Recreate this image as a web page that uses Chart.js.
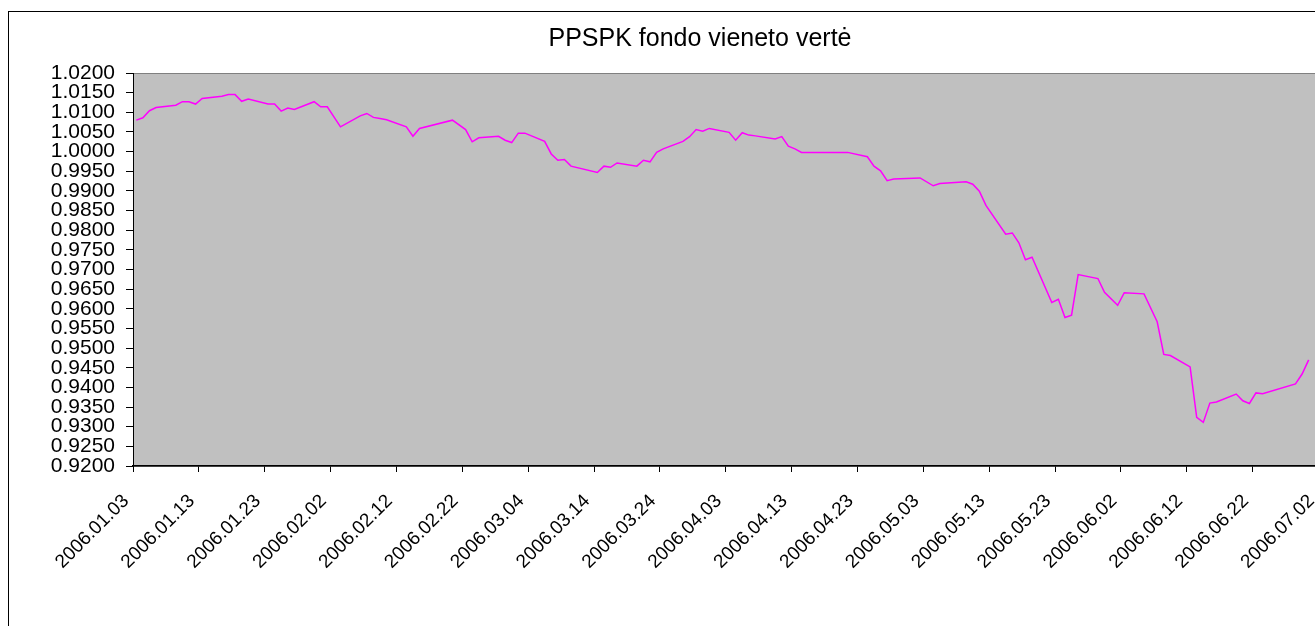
<!DOCTYPE html>
<html lang="lt">
<head>
<meta charset="UTF-8">
<title>PPSPK fondo vieneto vertė</title>
<script src="https://cdn.jsdelivr.net/npm/chart.js@4/dist/chart.umd.min.js"></script>
<style>
  * { box-sizing: border-box; margin: 0; padding: 0; }
  html, body { width: 1315px; height: 626px; overflow: hidden; background: #fff; }
  /* chart frame is wider/taller than the window, like the cropped Excel chart */
  .frame { position: absolute; left: 8px; top: 11px; width: 1384px; height: 660px; border: 1px solid #000; background: #fff; }
  .frame canvas { display: block; }
</style>
</head>
<body>
<div class="frame"><canvas id="chart" width="1382" height="614"></canvas></div>
<script>
const TITLE = 'PPSPK fondo vieneto vertė';
const START_DATE = '2006.01.03';

// trading days and unit values
const DATES = [
  '2006.01.03', '2006.01.04', '2006.01.05', '2006.01.06', '2006.01.09', '2006.01.10', '2006.01.11', '2006.01.12', '2006.01.13',
  '2006.01.16', '2006.01.17', '2006.01.18', '2006.01.19', '2006.01.20', '2006.01.23', '2006.01.24', '2006.01.25', '2006.01.26',
  '2006.01.27', '2006.01.30', '2006.01.31', '2006.02.01', '2006.02.03', '2006.02.06', '2006.02.07', '2006.02.08', '2006.02.09',
  '2006.02.10', '2006.02.13', '2006.02.14', '2006.02.15', '2006.02.20', '2006.02.22', '2006.02.23', '2006.02.24', '2006.02.27',
  '2006.02.28', '2006.03.01', '2006.03.02', '2006.03.03', '2006.03.06', '2006.03.07', '2006.03.08', '2006.03.09', '2006.03.10',
  '2006.03.14', '2006.03.15', '2006.03.16', '2006.03.17', '2006.03.20', '2006.03.21', '2006.03.22', '2006.03.23', '2006.03.24',
  '2006.03.27', '2006.03.28', '2006.03.29', '2006.03.30', '2006.03.31', '2006.04.03', '2006.04.04', '2006.04.05', '2006.04.06',
  '2006.04.07', '2006.04.10', '2006.04.11', '2006.04.12', '2006.04.13', '2006.04.14', '2006.04.21', '2006.04.24', '2006.04.25',
  '2006.04.26', '2006.04.27', '2006.04.28', '2006.05.02', '2006.05.04', '2006.05.05', '2006.05.09', '2006.05.10', '2006.05.11',
  '2006.05.12', '2006.05.15', '2006.05.16', '2006.05.17', '2006.05.18', '2006.05.19', '2006.05.22', '2006.05.23', '2006.05.24',
  '2006.05.25', '2006.05.26', '2006.05.29', '2006.05.30', '2006.06.01', '2006.06.02', '2006.06.05', '2006.06.07', '2006.06.08',
  '2006.06.09', '2006.06.12', '2006.06.13', '2006.06.14', '2006.06.15', '2006.06.16', '2006.06.19', '2006.06.20', '2006.06.21',
  '2006.06.22', '2006.06.23', '2006.06.28', '2006.06.29', '2006.06.30'
];
const VALUES = [
  1.0080, 1.0086, 1.0104, 1.0112, 1.0118, 1.0127, 1.0127, 1.0121, 1.0135,
  1.0141, 1.0145, 1.0145, 1.0128, 1.0134, 1.0121, 1.0121, 1.0103, 1.0111,
  1.0107, 1.0127, 1.0114, 1.0114, 1.0063, 1.0091, 1.0097, 1.0087, 1.0084,
  1.0081, 1.0063, 1.0039, 1.0059, 1.0080, 1.0056, 1.0025, 1.0035, 1.0039,
  1.0029, 1.0023, 1.0047, 1.0047, 1.0026, 0.9994, 0.9978, 0.9980, 0.9963,
  0.9947, 0.9963, 0.9960, 0.9971, 0.9963, 0.9978, 0.9974, 0.9998, 1.0007,
  1.0026, 1.0038, 1.0056, 1.0052, 1.0059, 1.0049, 1.0029, 1.0048, 1.0042,
  1.0040, 1.0032, 1.0038, 1.0014, 1.0007, 0.9998, 0.9998, 0.9987, 0.9963,
  0.9951, 0.9926, 0.9930, 0.9933, 0.9913, 0.9919, 0.9923, 0.9917, 0.9899,
  0.9863, 0.9790, 0.9793, 0.9768, 0.9725, 0.9731, 0.9616, 0.9624, 0.9578,
  0.9584, 0.9687, 0.9677, 0.9642, 0.9609, 0.9641, 0.9638, 0.9567, 0.9484,
  0.9481, 0.9452, 0.9324, 0.9311, 0.9360, 0.9363, 0.9383, 0.9366, 0.9359,
  0.9386, 0.9384, 0.9409, 0.9434, 0.9470
];

const X_TICK_LABELS = [
  '2006.01.03', '2006.01.13', '2006.01.23', '2006.02.02', '2006.02.12', '2006.02.22', '2006.03.04',
  '2006.03.14', '2006.03.24', '2006.04.03', '2006.04.13', '2006.04.23', '2006.05.03', '2006.05.13',
  '2006.05.23', '2006.06.02', '2006.06.12', '2006.06.22', '2006.07.02'
];
const Y_TICK_LABELS = [
  '0.9200', '0.9250', '0.9300', '0.9350', '0.9400', '0.9450', '0.9500', '0.9550', '0.9600', '0.9650', '0.9700',
  '0.9750', '0.9800', '0.9850', '0.9900', '0.9950', '1.0000', '1.0050', '1.0100', '1.0150', '1.0200'
];

function dayOf(label) {
  const [y, m, d] = label.split('.').map(Number);
  const [y0, m0, d0] = START_DATE.split('.').map(Number);
  return (Date.UTC(y, m - 1, d) - Date.UTC(y0, m0 - 1, d0)) / 86400000;
}

// each day is a slot on the date axis, points sit in the middle of it
const points = DATES.map((d, i) => ({ x: dayOf(d) + 0.5, y: VALUES[i] }));

const plotArea = {
  id: 'plotArea',
  beforeDraw(chart) {
    const { ctx, chartArea: a } = chart;
    ctx.save();
    ctx.fillStyle = '#c0c0c0';
    ctx.fillRect(a.left, a.top, a.right - a.left, a.bottom - a.top);
    ctx.strokeStyle = '#808080';
    ctx.lineWidth = 1;
    ctx.strokeRect(a.left + 0.5, a.top + 0.5, a.right - a.left, a.bottom - a.top);
    ctx.restore();
  }
};

Chart.defaults.font.family = 'Arial, "Liberation Sans", sans-serif';
Chart.defaults.color = '#000';

new Chart(document.getElementById('chart'), {
  type: 'line',
  data: {
    datasets: [{
      label: TITLE,
      data: points,
      borderColor: '#ff00ff',
      borderWidth: 1.5,
      pointRadius: 0,
      tension: 0,
      fill: false
    }]
  },
  options: {
    responsive: false,
    animation: false,
    plugins: {
      legend: { display: false },
      tooltip: { enabled: false },
      title: {
        display: true,
        text: TITLE,
        color: '#000',
        font: { size: 25, weight: 'normal' },
        padding: { top: 12, bottom: 19 }
      }
    },
    scales: {
      x: {
        type: 'linear',
        min: 0,
        max: 191,
        afterBuildTicks: s => { s.ticks = X_TICK_LABELS.map(l => ({ value: dayOf(l) })); },
        afterFit: s => { s.height = 160; },
        grid: { drawOnChartArea: false, tickLength: 6, color: '#000' },
        border: { color: '#000', width: 1.5 },
        ticks: {
          autoSkip: false,
          minRotation: 45,
          maxRotation: 45,
          padding: 18,
          labelOffset: -7,
          font: { size: 19 },
          callback: (v, i) => X_TICK_LABELS[i]
        }
      },
      y: {
        min: 0.92,
        max: 1.02,
        afterBuildTicks: s => { s.ticks = Y_TICK_LABELS.map(l => ({ value: parseFloat(l) })); },
        afterFit: s => { s.width = 124; },
        grid: { drawOnChartArea: false, tickLength: 7, color: '#000' },
        border: { color: '#000', width: 1 },
        ticks: {
          autoSkip: false,
          padding: 11,
          font: { size: 21 },
          callback: (v, i) => Y_TICK_LABELS[i]
        }
      }
    }
  },
  plugins: [plotArea]
});
</script>
</body>
</html>
